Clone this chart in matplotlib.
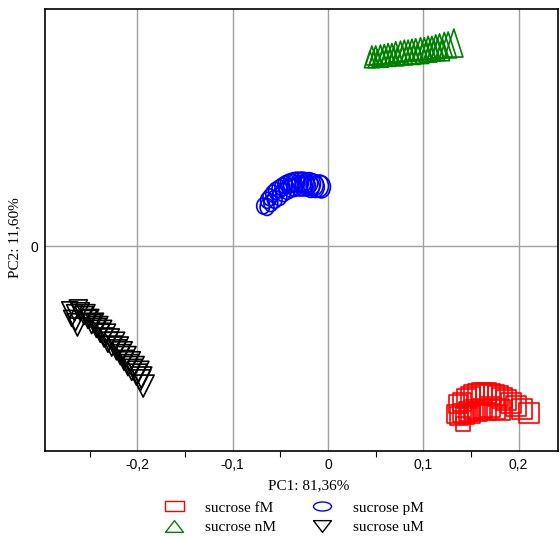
import numpy as np
import matplotlib
matplotlib.use('Agg')
from matplotlib import pyplot as plt
from matplotlib.path import Path
from matplotlib.lines import Line2D
from matplotlib.transforms import Affine2D


# PCA scores (PC1, PC2) and glyph height (px) of each sample
fM_pc1 = [0.136, 0.141, 0.145, 0.149, 0.153, 0.157, 0.162, 0.166, 0.170, 0.174, 0.178,
          0.183, 0.187, 0.192, 0.197, 0.204, 0.211,
          0.134, 0.137, 0.141, 0.144, 0.147, 0.150, 0.153, 0.157, 0.162, 0.166, 0.170,
          0.175, 0.180, 0.142]
fM_pc2 = [-0.166, -0.164, -0.160, -0.158, -0.156, -0.155, -0.154, -0.154, -0.155, -0.156, -0.157,
          -0.159, -0.162, -0.165, -0.168, -0.171, -0.175,
          -0.176, -0.178, -0.175, -0.177, -0.174, -0.176, -0.172, -0.174, -0.170, -0.172, -0.169,
          -0.171, -0.172, -0.187]
fM_h = [18, 18, 19, 19, 20, 20, 20, 20, 20, 20, 20, 20, 20, 20, 20, 20, 20,
        18, 18, 18, 18, 19, 19, 19, 19, 19, 20, 20, 20, 20, 14]

nM_pc1 = [0.046, 0.050, 0.055, 0.059, 0.063, 0.067, 0.071, 0.076, 0.080, 0.084, 0.088,
          0.092, 0.097, 0.101, 0.105, 0.109, 0.113, 0.117, 0.122, 0.126, 0.132,
          0.044, 0.048, 0.052, 0.057, 0.061, 0.065, 0.069, 0.073, 0.078, 0.082, 0.086,
          0.090, 0.094, 0.099, 0.103, 0.107, 0.111, 0.115, 0.120]
nM_pc2 = [0.200, 0.200, 0.201, 0.201, 0.202, 0.202, 0.204, 0.204, 0.205, 0.205, 0.206,
          0.206, 0.207, 0.207, 0.208, 0.208, 0.209, 0.210, 0.211, 0.211, 0.213,
          0.196, 0.196, 0.197, 0.197, 0.198, 0.198, 0.199, 0.199, 0.200, 0.200, 0.201,
          0.201, 0.202, 0.202, 0.204, 0.204, 0.205, 0.206, 0.206]
nM_h = [19, 19, 19, 20, 20, 20, 20, 21, 21, 21, 21, 22, 22, 22, 23, 23, 24, 24, 25, 26, 28,
        17, 17, 17, 18, 18, 18, 18, 19, 19, 19, 19, 20, 20, 20, 21, 21, 21, 22, 22]

pM_pc1 = [-0.068, -0.064, -0.061, -0.058, -0.055, -0.051, -0.048, -0.045, -0.042, -0.039,
          -0.036, -0.033, -0.029, -0.026, -0.023, -0.020, -0.017, -0.014, -0.009,
          -0.064, -0.060, -0.056, -0.051, -0.047, -0.043, -0.039, -0.035, -0.030, -0.026,
          -0.022, -0.018, -0.013, -0.007]
pM_pc2 = [0.042, 0.048, 0.051, 0.055, 0.058, 0.060, 0.062, 0.064, 0.065, 0.066,
          0.067, 0.067, 0.067, 0.067, 0.066, 0.066, 0.065, 0.064, 0.063,
          0.041, 0.045, 0.049, 0.052, 0.056, 0.059, 0.061, 0.062, 0.063, 0.063,
          0.063, 0.062, 0.062, 0.062]
pM_h = [16, 16, 17, 17, 17, 18, 18, 18, 19, 19, 19, 20, 20, 20, 20, 21, 21, 21, 22,
        17, 17, 18, 18, 18, 19, 19, 19, 20, 20, 20, 21, 21, 22]

uM_pc1 = [-0.269, -0.265, -0.263, -0.260, -0.256, -0.252, -0.248, -0.243, -0.239, -0.235,
          -0.231, -0.227, -0.222, -0.218, -0.214, -0.210, -0.206, -0.201, -0.197, -0.194,
          -0.271, -0.266, -0.262, -0.254, -0.250, -0.245, -0.241, -0.237, -0.233, -0.229,
          -0.224, -0.220, -0.216, -0.212, -0.208, -0.204, -0.199, -0.196]
uM_pc2 = [-0.076, -0.080, -0.085, -0.069, -0.073, -0.077, -0.082, -0.086, -0.091, -0.096,
          -0.101, -0.105, -0.109, -0.114, -0.120, -0.125, -0.130, -0.135, -0.141, -0.147,
          -0.067, -0.070, -0.066, -0.071, -0.076, -0.080, -0.084, -0.088, -0.092, -0.097,
          -0.101, -0.106, -0.111, -0.116, -0.122, -0.127, -0.132, -0.138]
uM_h = [16, 17, 18, 18, 18, 18, 19, 19, 19, 19, 20, 20, 20, 20, 20, 21, 21, 21, 21, 22,
        16, 16, 18, 18, 18, 18, 19, 19, 19, 19, 20, 20, 20, 20, 21, 21, 21, 21]

groups = ['sucrose fM', 'sucrose nM', 'sucrose pM', 'sucrose uM']
xticks = [-0.2, -0.1, 0, 0.1, 0.2]
xticklabels = ['-0,2', '-0,1', '0', '0,1', '0,2']
xminor = [-0.25, -0.15, -0.05, 0.05, 0.15]


def shape(verts):
    return Path(verts + [verts[0]], [Path.MOVETO] + [Path.LINETO] * (len(verts) - 1) + [Path.CLOSEPOLY])


ellipse_tall = Path.unit_circle().transformed(Affine2D().scale(0.82, 1.0))
ellipse_wide = Path.unit_circle().transformed(Affine2D().scale(1.0, 0.5))
tri_up_tall = shape([(0, 1), (-0.65, -1), (0.65, -1)])
tri_up_wide = shape([(0, 0.65), (-1, -0.65), (1, -0.65)])
tri_dn = shape([(0, -1), (-1, 1), (1, 1)])
tri_dn_wide = shape([(0, -0.65), (-1, 0.65), (1, 0.65)])
rect_wide = shape([(-1, -0.55), (1, -0.55), (1, 0.55), (-1, 0.55)])

PX = 0.72  # pixel -> point at 100 dpi

fig = plt.figure(figsize=(5.6, 5.36), dpi=100)
ax = fig.add_axes([45 / 560, 1 - 451 / 536, 513 / 560, 442 / 536])

series = [
    (fM_pc1, fM_pc2, fM_h, 's', '#ff0000'),
    (nM_pc1, nM_pc2, nM_h, tri_up_tall, '#008000'),
    (pM_pc1, pM_pc2, pM_h, ellipse_tall, '#0000ff'),
    (uM_pc1, uM_pc2, uM_h, tri_dn, '#000000'),
]
for x, y, h, m, c in series:
    s = (np.array(h) * PX) ** 2
    ax.scatter(x, y, s=s, marker=m, facecolors='none', edgecolors=c, linewidths=1.2, zorder=3)

ax.set_xlim(-0.297, 0.2413)
ax.set_ylim(-0.2151, 0.2487)
ax.set_xticks(xticks)
ax.set_xticklabels(xticklabels, family='Liberation Sans', fontsize=10)
ax.set_xticks(xminor, minor=True)
ax.set_yticks([0])
ax.set_yticklabels(['0'], family='Liberation Sans', fontsize=10)
ax.tick_params(which='major', length=0, pad=5)
ax.tick_params(which='minor', length=4, width=0.8, direction='out')
ax.grid(True, color='#a0a0a0', lw=1)
ax.set_axisbelow(True)
for sp in ax.spines.values():
    sp.set_linewidth(1.2)

fig.text(309 / 560, 1 - 486 / 536, 'PC1: 81,36%', family='Liberation Serif', fontsize=11,
         ha='center', va='center')
fig.text(15 / 560, 1 - 238 / 536, 'PC2: 11,60%', family='Liberation Serif', fontsize=11,
         ha='center', va='center', rotation=90)

handles = [
    Line2D([], [], ls='none', marker=rect_wide, ms=19 * PX, mfc='none', mec='#ff0000', mew=1),
    Line2D([], [], ls='none', marker=tri_up_wide, ms=18 * PX, mfc='none', mec='#008000', mew=1),
    Line2D([], [], ls='none', marker=ellipse_wide, ms=18 * PX, mfc='none', mec='#0000ff', mew=1),
    Line2D([], [], ls='none', marker=tri_dn_wide, ms=18 * PX, mfc='none', mec='#000000', mew=1),
]
fig.legend(handles, groups, ncol=2, loc='upper left', bbox_to_anchor=(157 / 560, 1 - 501 / 536),
           frameon=False, prop={'family': 'Liberation Serif', 'size': 11},
           handlelength=2.2, handletextpad=0.93, columnspacing=1.9, labelspacing=0.36,
           borderpad=0, borderaxespad=0)

fig.savefig('out.png', dpi=100)
